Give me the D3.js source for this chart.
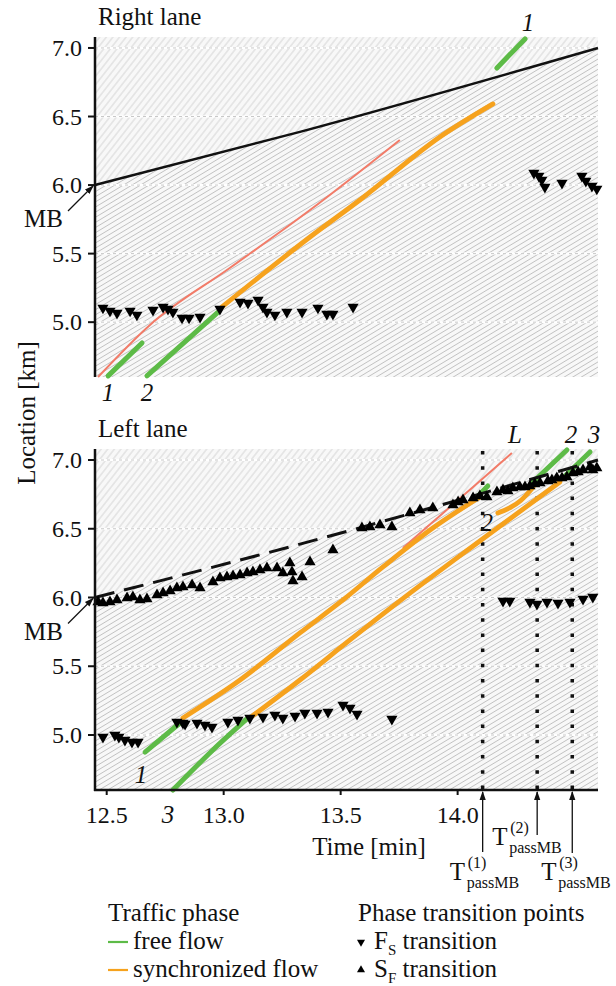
<!DOCTYPE html>
<html>
<head>
<meta charset="utf-8">
<script src="https://cdn.jsdelivr.net/npm/d3@7"></script>
<style>
  body { margin: 0; background: #fff; }
</style>
</head>
<body>
<svg id="chart" width="616" height="986"></svg>
<script>
// ---- axis ticks ----
const timeTicks = [12.5, 13.0, 13.5, 14.0];
const locTicks = [5.0, 5.5, 6.0, 6.5, 7.0];

// ---- moving bottleneck (MB) trajectory, [time min, location km] ----
const mbTrack = [[12.45, 6.0], [13.33, 6.39], [14.60, 7.0]];

// ---- right lane ----
const rightLeader = [[12.463, 4.600], [12.685, 4.980], [13.026, 5.395], [13.369, 5.818], [13.753, 6.329]];
const rightFree = [
  [[12.506, 4.608], [12.651, 4.848]],                 // vehicle 1
  [[12.672, 4.608], [12.976, 5.074]],                 // vehicle 2
  [[14.168, 6.854], [14.288, 7.066]]                  // vehicle 1 after lane change
];
const rightSync = [
  [[12.993, 5.111], [13.369, 5.621], [13.582, 5.891], [13.924, 6.351], [14.151, 6.592]]   // vehicle 2
];
const rightFS = [
  [12.484, 5.104], [12.514, 5.082], [12.544, 5.067], [12.600, 5.082], [12.629, 5.053],
  [12.698, 5.089], [12.741, 5.111], [12.762, 5.096], [12.783, 5.074], [12.822, 5.031],
  [12.852, 5.031], [12.899, 5.038], [12.984, 5.096], [13.070, 5.147], [13.104, 5.140],
  [13.147, 5.162], [13.168, 5.111], [13.185, 5.074], [13.219, 5.053], [13.270, 5.074],
  [13.335, 5.074], [13.403, 5.104], [13.441, 5.060], [13.467, 5.060], [13.553, 5.111],
  [14.326, 6.088], [14.347, 6.066], [14.360, 6.037], [14.373, 5.986], [14.446, 6.015],
  [14.531, 6.066], [14.548, 6.029], [14.574, 5.993], [14.595, 5.972]
];

// ---- left lane ----
const leftLeader = [[13.766, 6.360], [14.066, 6.804], [14.232, 7.051]];
const leftFree = [
  [[12.664, 4.876], [12.813, 5.087]],                 // vehicle 1
  [[12.783, 4.600], [12.954, 4.891], [13.104, 5.124]],// vehicle 3
  [[14.083, 6.731], [14.129, 6.811]],                 // vehicle 1 after MB
  [[14.322, 6.840], [14.467, 7.073]],                 // vehicle 2 after MB
  [[14.450, 6.869], [14.566, 7.058]]                  // vehicle 3 after MB
];
const leftSync = [
  [[12.826, 5.124], [13.070, 5.400], [13.326, 5.742], [13.510, 5.982], [13.681, 6.222], [13.894, 6.505], [14.095, 6.731]],
  [[13.112, 5.124], [13.326, 5.400], [13.540, 5.691], [13.753, 5.975], [14.095, 6.411], [14.437, 6.840]],
  [[14.172, 6.615], [14.270, 6.705], [14.322, 6.800]]
];
const leftFS = [
  [12.484, 4.985], [12.535, 5.000], [12.552, 4.985], [12.578, 4.964], [12.608, 4.949], [12.634, 4.949],
  [12.800, 5.095], [12.826, 5.087], [12.835, 5.080], [12.886, 5.087], [12.920, 5.073], [12.950, 5.058],
  [13.018, 5.095], [13.061, 5.109], [13.112, 5.124], [13.168, 5.131], [13.219, 5.145], [13.253, 5.124],
  [13.305, 5.138], [13.347, 5.160], [13.399, 5.160], [13.446, 5.167], [13.510, 5.218], [13.540, 5.196],
  [13.570, 5.153], [13.719, 5.116],
  [14.194, 5.975], [14.223, 5.975], [14.309, 5.967], [14.339, 5.953], [14.382, 5.967], [14.429, 5.960],
  [14.480, 5.967], [14.536, 5.989], [14.578, 6.004]
];
const leftSF = [
  [12.463, 5.967], [12.484, 5.960], [12.514, 5.967], [12.544, 5.982], [12.587, 5.996], [12.612, 6.004],
  [12.642, 5.982], [12.672, 5.989], [12.715, 6.018], [12.741, 6.033], [12.771, 6.047], [12.800, 6.069],
  [12.826, 6.076], [12.865, 6.091], [12.899, 6.069], [12.954, 6.113], [12.984, 6.142], [13.014, 6.149],
  [13.040, 6.156], [13.070, 6.164], [13.100, 6.178], [13.125, 6.185], [13.155, 6.200], [13.185, 6.215],
  [13.228, 6.215], [13.253, 6.178], [13.283, 6.251], [13.292, 6.185], [13.296, 6.120], [13.335, 6.149],
  [13.369, 6.258], [13.467, 6.345], [13.591, 6.505], [13.625, 6.513], [13.668, 6.527], [13.719, 6.513],
  [13.796, 6.615], [13.839, 6.636], [13.894, 6.651], [13.980, 6.673], [14.002, 6.695], [14.023, 6.709],
  [14.066, 6.724], [14.095, 6.738], [14.125, 6.731], [14.168, 6.767], [14.194, 6.782], [14.215, 6.775],
  [14.236, 6.796], [14.266, 6.804], [14.288, 6.804], [14.309, 6.811], [14.330, 6.825], [14.352, 6.833],
  [14.386, 6.847], [14.403, 6.855], [14.424, 6.869], [14.446, 6.869], [14.467, 6.876], [14.493, 6.905],
  [14.515, 6.913], [14.536, 6.927], [14.566, 6.949], [14.578, 6.927], [14.595, 6.942]
];
const passTimes = [14.107, 14.340, 14.490];
const passLabels = ["(1)", "(2)", "(3)"];

// ---- styling ----
const C = { free: "#5dbb47", sync: "#f6a21d", leader: "#f27b68", ink: "#111" };
const FONT = "Liberation Serif";

const svg = d3.select("#chart").attr("font-family", FONT);
const defs = svg.append("defs");

const x = d3.scaleLinear().domain([12.45, 14.60]).range([95, 598]);
const yRight = d3.scaleLinear().domain([4.6, 7.08]).range([377, 37]);
const yLeft = d3.scaleLinear().domain([4.6, 7.08]).range([790, 449]);

// trajectory hatching (background vehicle trajectories)
function hatch(id, angle, gap, color, width) {
  const p = defs.append("pattern").attr("id", id)
    .attr("patternUnits", "userSpaceOnUse")
    .attr("width", 40).attr("height", gap)
    .attr("patternTransform", `rotate(${-angle})`);
  p.append("rect").attr("width", 40).attr("height", gap).attr("fill", "#f8f8f8");
  p.append("line").attr("x1", -1).attr("x2", 41).attr("y1", gap / 2).attr("y2", gap / 2)
    .attr("stroke", color).attr("stroke-width", width);
}
hatch("hSteep", 52, 5.2, "#d2d2d2", 0.9);
hatch("hFlat", 31, 4.4, "#c2c2c2", 0.9);

defs.append("marker").attr("id", "arrowHead")
  .attr("viewBox", "0 0 10 10").attr("refX", 9).attr("refY", 5)
  .attr("markerWidth", 7).attr("markerHeight", 7).attr("orient", "auto")
  .append("path").attr("d", "M0,1.5 L10,5 L0,8.5 Z").attr("fill", "#111");

const tri = d3.symbol(d3.symbolTriangle, 54);

function txt(sel, size) {
  return sel.append("text").attr("font-family", FONT).attr("font-size", size).attr("fill", "#111");
}

function drawPanel(cfg) {
  const y = cfg.y;
  const g = svg.append("g");
  const [y0, y1] = [y.range()[1], y.range()[0]];
  const x0 = x.range()[0], x1 = x.range()[1];
  const mbPts = mbTrack.map(d => [x(d[0]), y(d[1])]);

  // hatching above and below the MB trajectory
  const above = mbPts.concat([[x1, y0], [x0, y0]]);
  const below = mbPts.concat([[x1, y1], [x0, y1]]);
  g.append("path").attr("d", "M" + above.join("L") + "Z").attr("fill", "url(#hSteep)");
  g.append("path").attr("d", "M" + below.join("L") + "Z").attr("fill", "url(#hFlat)");

  // grid
  locTicks.forEach(v => {
    g.append("line").attr("x1", x0).attr("x2", x1).attr("y1", y(v)).attr("y2", y(v))
      .attr("stroke", "#fff").attr("stroke-width", 2);
    g.append("line").attr("x1", x0).attr("x2", x1).attr("y1", y(v)).attr("y2", y(v))
      .attr("stroke", "#c8c8c8").attr("stroke-width", 1).attr("stroke-dasharray", "3,3");
  });

  const line = d3.line().x(d => x(d[0])).y(d => y(d[1])).curve(d3.curveMonotoneX);

  // pass-MB markers
  if (cfg.passLines) {
    passTimes.forEach(t => {
      g.append("line").attr("x1", x(t)).attr("x2", x(t)).attr("y1", 451).attr("y2", y1)
        .attr("stroke", "#111").attr("stroke-width", 3.5).attr("stroke-dasharray", "3.5,11.7");
    });
  }

  // trajectories
  g.append("path").attr("d", line(cfg.leader)).attr("fill", "none")
    .attr("stroke", C.leader).attr("stroke-width", 2);
  cfg.sync.forEach(s => g.append("path").attr("d", line(s)).attr("fill", "none")
    .attr("stroke", C.sync).attr("stroke-width", 4.8).attr("stroke-linecap", "round"));
  cfg.free.forEach(s => g.append("path").attr("d", line(s)).attr("fill", "none")
    .attr("stroke", C.free).attr("stroke-width", 5).attr("stroke-linecap", "round"));

  // MB trajectory
  g.append("path").attr("d", line(mbTrack)).attr("fill", "none")
    .attr("stroke", "#111").attr("stroke-width", cfg.dashed ? 3 : 2.5)
    .attr("stroke-dasharray", cfg.dashed ? "20,10" : null);

  // transition points
  g.selectAll(null).data(cfg.fs).join("path")
    .attr("d", tri).attr("fill", "#000")
    .attr("transform", d => `translate(${x(d[0])},${y(d[1])}) rotate(180)`);
  if (cfg.sf) {
    g.selectAll(null).data(cfg.sf).join("path")
      .attr("d", tri).attr("fill", "#000")
      .attr("transform", d => `translate(${x(d[0])},${y(d[1])})`);
  }

  // left axis
  g.append("line").attr("x1", x0).attr("x2", x0).attr("y1", y0).attr("y2", y1 + (cfg.xAxis ? 1 : 0))
    .attr("stroke", "#111").attr("stroke-width", 2.5);
  locTicks.forEach(v => {
    g.append("line").attr("x1", x0 - 7).attr("x2", x0).attr("y1", y(v)).attr("y2", y(v))
      .attr("stroke", "#111").attr("stroke-width", 2);
    txt(g, 24).attr("x", x0 - 13).attr("y", y(v) + 8).attr("text-anchor", "end").text(v.toFixed(1));
  });
  if (cfg.xAxis) {
    g.append("line").attr("x1", x0 - 1).attr("x2", x1).attr("y1", y1).attr("y2", y1)
      .attr("stroke", "#111").attr("stroke-width", 2.5);
    timeTicks.forEach(v => {
      g.append("line").attr("x1", x(v)).attr("x2", x(v)).attr("y1", y1).attr("y2", y1 + 5)
        .attr("stroke", "#111").attr("stroke-width", 2);
      txt(g, 24).attr("x", x(v)).attr("y", y1 + 33).attr("text-anchor", "middle").text(v.toFixed(1));
    });
  }

  // title
  txt(g, 25).attr("x", x0 + 3).attr("y", y0 - 12).text(cfg.title);

  // MB annotation
  const mb0 = mbPts[0];
  g.append("line").attr("x1", mb0[0] - 27).attr("x2", mb0[0] - 2).attr("y1", mb0[1] + 26).attr("y2", mb0[1] + 1)
    .attr("stroke", "#111").attr("stroke-width", 1.3).attr("marker-end", "url(#arrowHead)");
  txt(g, 25).attr("x", mb0[0] - 32).attr("y", mb0[1] + 42).attr("text-anchor", "end").text("MB");

  // vehicle labels
  cfg.labels.forEach(l => {
    txt(g, 25).attr("x", x(l.p[0]) + l.dx)
      .attr("y", l.top ? y0 - 6 : (l.bottom ? y1 + l.dy : y(l.p[1]) + l.dy))
      .attr("text-anchor", "middle").attr("font-style", "italic").text(l.text);
  });
  return g;
}

drawPanel({
  y: yRight, title: "Right lane", xAxis: false, dashed: false,
  leader: rightLeader, free: rightFree, sync: rightSync, fs: rightFS, sf: null,
  labels: [
    { text: "1", p: rightFree[0][0], dx: 0, bottom: true, dy: 24 },
    { text: "2", p: rightFree[1][0], dx: 0, bottom: true, dy: 24 },
    { text: "1", p: rightFree[2][1], dx: 3, top: true }
  ]
});

drawPanel({
  y: yLeft, title: "Left lane", xAxis: true, dashed: true, passLines: true,
  leader: leftLeader, free: leftFree, sync: leftSync, fs: leftFS, sf: leftSF,
  labels: [
    { text: "1", p: leftFree[0][0], dx: -4, dy: 31 },
    { text: "3", p: leftFree[1][0], dx: -5, bottom: true, dy: 33 },
    { text: "L", p: leftLeader[2], dx: 3, top: true },
    { text: "2", p: leftFree[3][1], dx: 4, top: true },
    { text: "3", p: leftFree[4][1], dx: 4, top: true },
    { text: "2", p: leftSync[2][0], dx: -11, dy: 18 }
  ]
});

// axis titles
txt(svg, 25).attr("transform", "translate(35,413) rotate(-90)").attr("text-anchor", "middle").text("Location [km]");
txt(svg, 25).attr("x", 369).attr("y", 855).attr("text-anchor", "middle").text("Time [min]");

// T_passMB annotations
const passLayout = [
  { start: 852, tx: -33, base: 880 },
  { start: 835, tx: -45, base: 845 },
  { start: 853, tx: -31, base: 880 }
];
passTimes.forEach((t, i) => {
  const px = x(t), L = passLayout[i];
  svg.append("line").attr("x1", px).attr("x2", px).attr("y1", L.start).attr("y2", 792)
    .attr("stroke", "#111").attr("stroke-width", 1.3).attr("marker-end", "url(#arrowHead)");
  const gx = px + L.tx;
  txt(svg, 25).attr("x", gx).attr("y", L.base).text("T");
  txt(svg, 16).attr("x", gx + 18).attr("y", L.base - 12).text(passLabels[i]);
  txt(svg, 16).attr("x", gx + 17).attr("y", L.base + 8).text("passMB");
});

// legend
const lg = svg.append("g");
txt(lg, 25).attr("x", 108).attr("y", 921).text("Traffic phase");
[["free flow", C.free, 949], ["synchronized flow", C.sync, 977]].forEach(([t, c, b]) => {
  lg.append("line").attr("x1", 108).attr("x2", 128).attr("y1", b - 7).attr("y2", b - 7)
    .attr("stroke", c).attr("stroke-width", 2.2);
  txt(lg, 25).attr("x", 133).attr("y", b).text(t);
});
txt(lg, 25).attr("x", 358).attr("y", 921).text("Phase transition points");
const triSmall = d3.symbol(d3.symbolTriangle, 28);
[["F", "S", 949, 180], ["S", "F", 977, 0]].forEach(([a, s, b, rot]) => {
  lg.append("path").attr("d", triSmall).attr("fill", "#000")
    .attr("transform", `translate(361,${b - 7}) rotate(${rot})`);
  const t = txt(lg, 25).attr("x", 374).attr("y", b);
  t.append("tspan").text(a);
  t.append("tspan").attr("font-size", 15).attr("dy", 6).text(s);
  t.append("tspan").attr("dy", -6).text(" transition");
});
</script>
</body>
</html>
